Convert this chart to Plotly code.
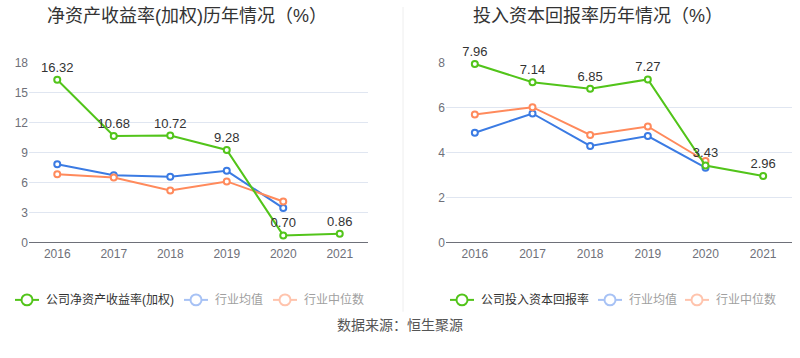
import plotly.graph_objects as go

years = ["2016", "2017", "2018", "2019", "2020", "2021"]

roe_company = [16.32, 10.68, 10.72, 9.28, 0.70, 0.86]
roe_ind_avg = [7.84, 6.75, 6.59, 7.18, 3.44]
roe_ind_med = [6.85, 6.52, 5.20, 6.12, 4.11]

roic_company = [7.96, 7.14, 6.85, 7.27, 3.43, 2.96]
roic_ind_avg = [4.89, 5.75, 4.30, 4.74, 3.33]
roic_ind_med = [5.70, 6.03, 4.79, 5.17, 3.63]

left_title = "净资产收益率(加权)历年情况（%）"
right_title = "投入资本回报率历年情况（%）"
left_legend = ["公司净资产收益率(加权)", "行业均值", "行业中位数"]
right_legend = ["公司投入资本回报率", "行业均值", "行业中位数"]
source_text = "数据来源：恒生聚源"

GREEN = "#52C41A"
BLUE = "#3B7BE3"
ORANGE = "#FF8A5C"
FONT = "Liberation Sans, Noto Sans CJK SC, sans-serif"

W, H = 800, 358
H_EFF = 350  # vertical extent observed in the captured picture


def py(p):
    """pixel row (from top, in captured picture) -> paper y"""
    return 1 - p / H_EFF


def px(p):
    return p / W


fig = go.Figure()


def add_series(x, y, color, xa, ya, labels=False):
    fig.add_trace(go.Scatter(
        x=x, y=y, xaxis=xa, yaxis=ya,
        mode="lines+markers+text" if labels else "lines+markers",
        line=dict(color=color, width=2),
        marker=dict(symbol="circle", size=6, color="white",
                    line=dict(color=color, width=2)),
        text=[f"{v:.2f}" for v in y] if labels else None,
        textposition="top center",
        textfont=dict(size=13, color="#333333", family=FONT),
        showlegend=False, hoverinfo="skip", cliponaxis=False,
    ))


add_series(years[:5], roe_ind_avg, BLUE, "x", "y")
add_series(years[:5], roe_ind_med, ORANGE, "x", "y")
add_series(years, roe_company, GREEN, "x", "y", labels=True)

add_series(years[:5], roic_ind_avg, BLUE, "x2", "y2")
add_series(years[:5], roic_ind_med, ORANGE, "x2", "y2")
add_series(years, roic_company, GREEN, "x2", "y2", labels=True)

ydom = [py(239.5), py(57)]

axis_common = dict(
    type="category", showgrid=False, zeroline=False,
    showline=True, linecolor="#6E7079", linewidth=1,
    ticks="", tickfont=dict(size=12, color="#6E7079", family=FONT),
    range=[-0.5, 5.5], fixedrange=True,
)
yaxis_common = dict(
    showgrid=True, gridcolor="#E0E6F1", gridwidth=1, zeroline=False,
    showline=False, ticks="", tickfont=dict(size=12, color="#6E7079", family=FONT),
    fixedrange=True,
)

fig.update_layout(
    width=W, height=H,
    margin=dict(l=0, r=0, t=0, b=0),
    paper_bgcolor="white", plot_bgcolor="white",
    font=dict(family=FONT),
    xaxis=dict(domain=[px(29), px(368)], anchor="y", **axis_common),
    yaxis=dict(domain=ydom, anchor="x", range=[0, 18], tickvals=[0, 3, 6, 9, 12, 15, 18], **yaxis_common),
    xaxis2=dict(domain=[px(446), px(792)], anchor="y2", **axis_common),
    yaxis2=dict(domain=ydom, anchor="x2", range=[0, 8], tickvals=[0, 2, 4, 6, 8], **yaxis_common),
)

annotations = []
shapes = []

# titles
annotations.append(dict(x=px(187), y=py(9), xref="paper", yref="paper", text=left_title,
                        showarrow=False, font=dict(size=18, color="#333333", family=FONT),
                        xanchor="center", yanchor="middle"))
annotations.append(dict(x=px(598), y=py(9), xref="paper", yref="paper", text=right_title,
                        showarrow=False, font=dict(size=18, color="#333333", family=FONT),
                        xanchor="center", yanchor="middle"))

# divider
shapes.append(dict(type="line", xref="paper", yref="paper", x0=px(403), x1=px(403),
                   y0=py(310), y1=1, line=dict(color="#EEEEEE", width=1)))

# legends
LY = 298


def legend_item(cx, color, text, text_color):
    shapes.append(dict(type="line", xref="paper", yref="paper",
                       x0=px(cx - 12), x1=px(cx + 12), y0=py(LY), y1=py(LY),
                       line=dict(color=color, width=2)))
    shapes.append(dict(type="circle", xref="paper", yref="paper",
                       x0=px(cx - 5.5), x1=px(cx + 5.5),
                       y0=py(LY + 5.5), y1=py(LY - 5.5),
                       fillcolor="white", line=dict(color=color, width=2)))
    annotations.append(dict(x=px(cx + 17), y=py(LY), xref="paper", yref="paper",
                            text=text, showarrow=False, xanchor="left", yanchor="middle",
                            font=dict(size=12, color=text_color, family=FONT)))


legend_item(27, GREEN, left_legend[0], "#333333")
legend_item(196, "#A7C2F5", left_legend[1], "#A0A0A0")
legend_item(285, "#FFC4AD", left_legend[2], "#A0A0A0")
legend_item(462, GREEN, right_legend[0], "#333333")
legend_item(610, "#A7C2F5", right_legend[1], "#A0A0A0")
legend_item(697, "#FFC4AD", right_legend[2], "#A0A0A0")

annotations.append(dict(x=0.5, y=py(324), xref="paper", yref="paper", text=source_text,
                        showarrow=False, xanchor="center", yanchor="middle",
                        font=dict(size=14, color="#555555", family=FONT)))

fig.update_layout(annotations=annotations, shapes=shapes)

fig.write_html("out.html", config={"displayModeBar": False},
               post_script="document.body.style.margin='0';document.body.style.padding='0';")
